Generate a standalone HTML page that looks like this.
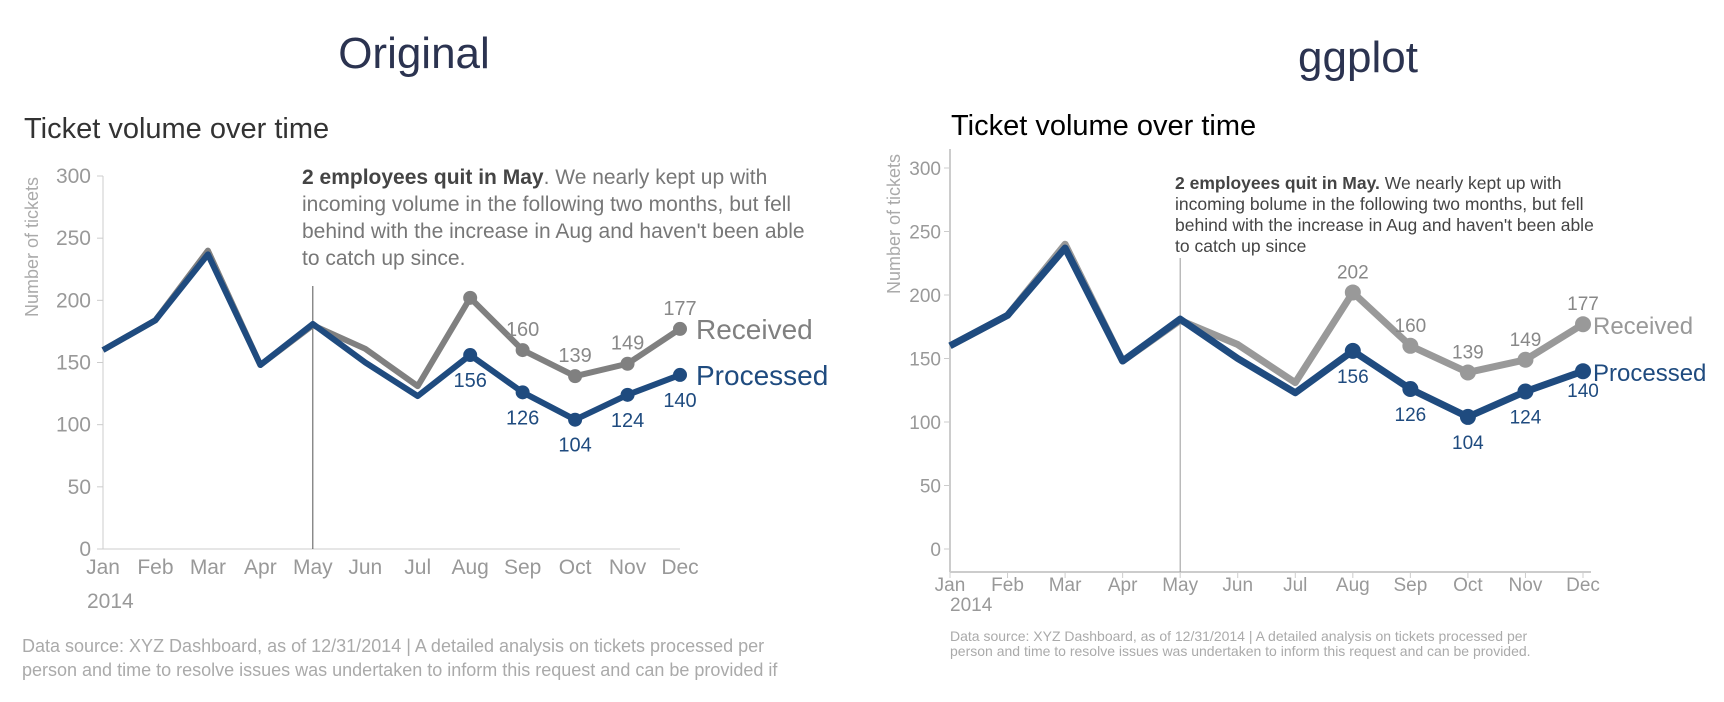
<!DOCTYPE html>
<html><head><meta charset="utf-8"><style>
html,body{margin:0;padding:0;background:#fff;width:1724px;height:702px;overflow:hidden}
svg{display:block}
text{font-family:"Liberation Sans",sans-serif}
</style></head><body>
<svg id="c" width="1724" height="702"></svg>
<script>
const months=["Jan","Feb","Mar","Apr","May","Jun","Jul","Aug","Sep","Oct","Nov","Dec"];
const received=[160,184,240,148,180,161,131,202,160,139,149,177];
const processed=[160,184,237,148,181,150,123,156,126,104,124,140];
const yTicks=[0,50,100,150,200,250,300];
const receivedLabelIdx=[8,9,10,11];
const receivedLabelIdxGG=[7,8,9,10,11];
const processedLabelIdx=[7,8,9,10,11];
const NS="http://www.w3.org/2000/svg";
const svg=document.getElementById('c');
function el(tag,attrs,parent,txt){const e=document.createElementNS(NS,tag);for(const k in attrs)e.setAttribute(k,attrs[k]);if(txt!==undefined)e.textContent=txt;(parent||svg).appendChild(e);return e;}
function panel(cfg){
  const g=el('g',{});
  
  
  const X=i=>cfg.x0+i*(cfg.x1-cfg.x0)/11;
  const Y=v=>cfg.y0+(cfg.y300-cfg.y0)*v/300;
  let t=el('text',{x:cfg.titleX,y:cfg.titleY,'font-size':44,fill:'#2b3350','text-anchor':'middle','font-family':'DejaVu Sans, sans-serif'},g,cfg.title);
  
  t=el('text',{x:cfg.subX,y:cfg.subY,'font-size':29,fill:cfg.subColor},g,'Ticket volume over time');
  
  t=el('text',{transform:`translate(${cfg.ylabX},${cfg.ylabY}) rotate(-90)`,'font-size':18,fill:'#aaa','text-anchor':'middle'},g,'Number of tickets');
  
  let a=el('line',{x1:cfg.axX,y1:cfg.axTop,x2:cfg.axX,y2:cfg.axBot,stroke:'#ccc','stroke-width':cfg.gg?2:1},g);
  
  a=el('line',{x1:cfg.axX,y1:cfg.axBot,x2:cfg.xEnd,y2:cfg.axBot,stroke:'#ccc','stroke-width':cfg.gg?2:1},g);
  
  yTicks.forEach(v=>{
    el('line',{x1:cfg.axX-6,y1:Y(v),x2:cfg.axX,y2:Y(v),stroke:'#ccc'},g);
    const tt=el('text',{x:cfg.axX-cfg.tickGap,y:Y(v)+7,'font-size':cfg.tickFs,fill:'#999','text-anchor':'end'},g,v);
    
  });
  months.forEach((m,i)=>{
    if(cfg.gg) el('line',{x1:X(i),y1:cfg.axBot,x2:X(i),y2:cfg.axBot+6,stroke:'#ccc'},g);
    const tt=el('text',{x:X(i),y:cfg.monY,'font-size':cfg.tickFs,fill:'#999','text-anchor':'middle'},g,m);
    
  });
  t=el('text',{x:cfg.yearX,y:cfg.yearY,'font-size':cfg.tickFs,fill:'#999'},g,'2014');
  
  const v=el('line',{x1:X(4),y1:cfg.vTop,x2:X(4),y2:cfg.axBot,stroke:cfg.gg?'#999':'#555','stroke-width':1},g);
  
  const ann=el('text',{'font-size':cfg.annFs,fill:cfg.annColor},g);
  
  cfg.annLines.forEach((ln,k)=>{
    const ts=el('tspan',{x:cfg.annX,y:cfg.annY+k*cfg.annLH},ann);
    if(k===0){el('tspan',{'font-weight':'bold',fill:'#444'},ts,cfg.annBold);el('tspan',{},ts,ln);}
    else ts.textContent=ln;
  });
  const path=arr=>arr.map((d,i)=>(i?'L':'M')+X(i)+','+Y(d)).join(' ');
  let p=el('path',{d:path(received),fill:'none',stroke:cfg.recColor,'stroke-width':cfg.gg?7:6,'stroke-linejoin':'round'},g);
  
  p=el('path',{d:path(processed),fill:'none',stroke:'#1f4b7f','stroke-width':cfg.gg?7:6,'stroke-linejoin':'round'},g);
  
  for(let i=7;i<12;i++){
    const c1=el('circle',{cx:X(i),cy:Y(received[i]),r:cfg.gg?8:7,fill:cfg.recColor},g);
    
    const c2=el('circle',{cx:X(i),cy:Y(processed[i]),r:cfg.gg?8:7,fill:'#1f4b7f'},g);
    
  }
  (cfg.gg?receivedLabelIdxGG:receivedLabelIdx).forEach(i=>{
    const tt=el('text',{x:X(i),y:Y(received[i])-14,'font-size':cfg.valFs,fill:'#888','text-anchor':'middle'},g,received[i]);
    
  });
  processedLabelIdx.forEach(i=>{
    const tt=el('text',{x:X(i),y:Y(processed[i])+(i==11?(cfg.gg?26:32):32),'font-size':cfg.valFs,fill:'#1f4b7f','text-anchor':'middle'},g,processed[i]);
    
  });
  t=el('text',{x:cfg.legX,y:Y(received[11])+10,'font-size':cfg.legFs,fill:cfg.recColor},g,'Received');
  
  t=el('text',{x:cfg.legX,y:Y(processed[11])+10,'font-size':cfg.legFs,fill:'#1f4b7f'},g,'Processed');
  
  const f=el('text',{'font-size':cfg.footFs,fill:'#aaa'},g);
  
  cfg.foot.forEach((ln,k)=>el('tspan',{x:cfg.footX,y:cfg.footY+k*cfg.footLH},f,ln));
}
panel({name:'original-panel',gg:false,title:'Original',titleX:414,titleY:68,subX:24,subY:138,subColor:'#333',
 ylabX:38,ylabY:247,x0:103,x1:680,y0:549,y300:176,axX:103,axTop:176,axBot:549,xEnd:680,monY:574,yearX:87,yearY:608,
 tickGap:12,tickFs:21,valFs:20,
 vTop:286,annX:302,annY:184,annLH:27,annFs:21,annColor:'#777',annBold:'2 employees quit in May',
 annLines:['. We nearly kept up with','incoming volume in the following two months, but fell',"behind with the increase in Aug and haven't been able",'to catch up since.'],
 recColor:'#808080',legX:696,legFs:28,footFs:18,footX:22,footY:652,footLH:24,
 foot:['Data source: XYZ Dashboard, as of 12/31/2014  |  A detailed analysis on tickets processed per','person and time to resolve issues was undertaken to inform this request and can be provided if']});
panel({name:'ggplot-panel',gg:true,title:'ggplot',titleX:1358,titleY:72,subX:951,subY:135,subColor:'#000',
 ylabX:900,ylabY:224,x0:950,x1:1583,y0:549,y300:168,axX:950,axTop:149,axBot:572,xEnd:1591,monY:591,yearX:950,yearY:611,
 tickGap:9,tickFs:19,valFs:19,
 vTop:258,annX:1175,annY:189,annLH:21,annFs:17.5,annColor:'#444',annBold:'2 employees quit in May.',
 annLines:[' We nearly kept up with','incoming bolume in the following two months, but fell',"behind with the increase in Aug and haven't been able",'to catch up since'],
 recColor:'#999',legX:1593,legFs:24,footFs:14,footX:950,footY:641,footLH:15,
 foot:['Data source: XYZ Dashboard, as of 12/31/2014 | A detailed analysis on tickets processed per','person and time to resolve issues was undertaken to inform this request and can be provided.']});
</script>
</body></html>
